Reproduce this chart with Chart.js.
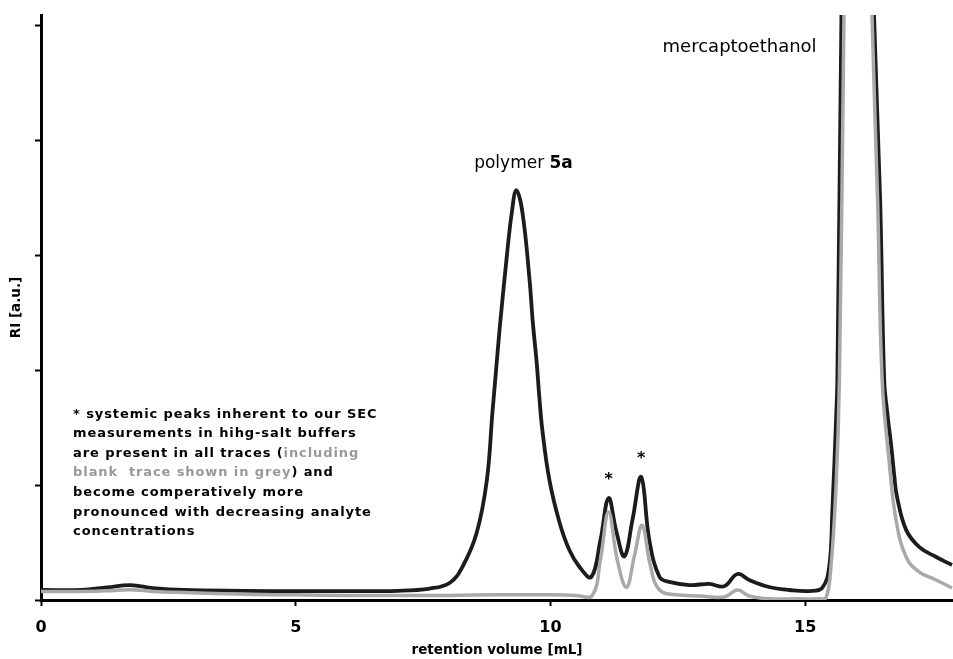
<!DOCTYPE html>
<html>
<head>
<meta charset="utf-8">
<script src="https://cdn.jsdelivr.net/npm/chart.js@4.4.0/dist/chart.umd.min.js"></script>
<style>
  body { margin: 0; background: #fff; }
  #wrap { width: 953px; height: 659px; }
</style>
</head>
<body>
<div id="wrap"><canvas id="secChart"></canvas></div>
<script>
// polymer 5a trace
var sampleVol = [0, 0.8, 1.3, 1.75, 2.2, 2.8, 4, 5, 6, 7, 7.63, 8.02, 8.27, 8.55, 8.75, 8.86, 8.93, 9.0, 9.14, 9.24, 9.33,
  9.45, 9.59, 9.65, 9.73, 9.78, 9.84, 9.98, 10.18, 10.37, 10.57, 10.8, 10.98, 11.14, 11.29, 11.45, 11.61, 11.78, 11.94,
  12.14, 12.33, 12.73, 13.12, 13.41, 13.67, 13.9, 14.29, 14.69, 15.08, 15.33, 15.47, 15.53, 15.61, 15.63,
  15.71, 15.8, 15.95, 16.1, 16.22, 16.35, 16.47, 16.55, 16.61, 16.69, 16.75, 16.8, 16.98, 17.24, 17.57, 17.88];
var sampleRI = [0.087, 0.087, 0.11, 0.13, 0.104, 0.087, 0.08, 0.077, 0.077, 0.08, 0.1, 0.148, 0.287, 0.583, 1.04, 1.63, 1.99, 2.35, 2.98, 3.37, 3.565,
  3.37, 2.78, 2.43, 2.06, 1.77, 1.48, 1.04, 0.67, 0.435, 0.287, 0.2, 0.52, 0.887, 0.6, 0.38, 0.7, 1.07, 0.52,
  0.2, 0.157, 0.13, 0.14, 0.12, 0.226, 0.174, 0.113, 0.087, 0.078, 0.104, 0.287, 0.757, 1.63, 1.91,
  5.09, 8.5, 11.5, 11, 7.5, 5.09, 3.48, 1.91, 1.63, 1.33, 1.07, 0.9, 0.61, 0.46, 0.374, 0.304];

// blank trace
var blankVol = [0, 0.8, 1.3, 1.75, 2.2, 2.8, 4, 5, 6, 7, 8, 9, 10, 10.5, 10.82, 10.98, 11.14, 11.31, 11.49, 11.65,
  11.8, 11.96, 12.14, 12.53, 12.92, 13.41, 13.67, 13.9, 14.29, 14.88, 15.27, 15.41, 15.51, 15.61, 15.67,
  15.76, 15.85, 16.0, 16.12, 16.22, 16.31, 16.42, 16.51, 16.65, 16.78, 16.98, 17.24, 17.57, 17.88];
var blankRI = [0.075, 0.075, 0.08, 0.09, 0.075, 0.065, 0.05, 0.045, 0.04, 0.04, 0.04, 0.045, 0.045, 0.04, 0.04, 0.35, 0.765, 0.35, 0.11, 0.39,
  0.65, 0.3, 0.087, 0.043, 0.035, 0.026, 0.087, 0.035, 0.01, 0.01, 0.01, 0.02, 0.32, 1.04, 1.91,
  5.09, 8.5, 11.5, 10, 7, 5.09, 3.48, 1.91, 1.19, 0.7, 0.374, 0.243, 0.174, 0.104];

// systemic peaks marked with *
var starVol = [11.14, 11.78];
var starRI = [0.887, 1.07];

var noteLines = [
  [['* systemic peaks inherent to our SEC', '#000']],
  [['measurements in hihg-salt buffers', '#000']],
  [['are present in all traces (', '#000'], ['including', '#999']],
  [['blank  trace shown in grey', '#999'], [') and', '#000']],
  [['become comperatively more', '#000']],
  [['pronounced with decreasing analyte', '#000']],
  [['concentrations', '#000']]
];

function points(xs, ys) {
  return xs.map(function (x, i) { return { x: x, y: ys[i] }; });
}

var FONT = '"DejaVu Sans", Verdana, sans-serif';

var labelsPlugin = {
  id: 'peakLabels',
  afterDatasetsDraw: function (chart) {
    var ctx = chart.ctx, xs = chart.scales.x, ys = chart.scales.y;
    ctx.save();
    ctx.textBaseline = 'alphabetic';

    // asterisks over the systemic peaks
    ctx.font = 'bold 16px ' + FONT;
    ctx.fillStyle = '#000';
    ctx.textAlign = 'center';
    starVol.forEach(function (v, i) {
      ctx.fillText('*', xs.getPixelForValue(v), ys.getPixelForValue(starRI[i]) - 14);
    });

    // polymer 5a
    ctx.textAlign = 'left';
    var px = xs.getPixelForValue(9.47), py = ys.getPixelForValue(3.8) + 5;
    ctx.font = '17px ' + FONT;
    var w1 = ctx.measureText('polymer ').width;
    ctx.font = 'bold 17px ' + FONT;
    var w2 = ctx.measureText('5a').width;
    var x0 = px - (w1 + w2) / 2;
    ctx.font = '17px ' + FONT;
    ctx.fillText('polymer ', x0, py);
    ctx.font = 'bold 17px ' + FONT;
    ctx.fillText('5a', x0 + w1, py);

    // mercaptoethanol
    ctx.font = '18px ' + FONT;
    ctx.fillText('mercaptoethanol', xs.getPixelForValue(12.2), ys.getPixelForValue(4.82) + 6);

    // note
    ctx.font = 'bold 13px ' + FONT;
    ctx.letterSpacing = '0.9px';
    var nx = xs.getPixelForValue(0.63), ny = ys.getPixelForValue(1.63) + 5;
    noteLines.forEach(function (line, i) {
      var x = nx;
      line.forEach(function (seg) {
        ctx.fillStyle = seg[1];
        ctx.fillText(seg[0], x, ny + i * 19.6);
        x += ctx.measureText(seg[0]).width;
      });
    });
    ctx.restore();
  }
};

new Chart(document.getElementById('secChart'), {
  type: 'line',
  data: {
    datasets: [{
      label: 'blank',
      data: points(blankVol, blankRI),
      borderColor: '#a9a9a9',
      borderWidth: 3.5,
      pointRadius: 0,
      tension: 0.4,
      order: 0
    }, {
      label: 'polymer 5a',
      data: points(sampleVol, sampleRI),
      borderColor: '#1c1c1c',
      borderWidth: 3.8,
      pointRadius: 0,
      tension: 0.4,
      order: 1
    }]
  },
  options: {
    responsive: true,
    maintainAspectRatio: false,
    animation: false,
    layout: { padding: { top: 15, right: 0, bottom: 0, left: 0 } },
    plugins: { legend: { display: false }, tooltip: { enabled: false } },
    scales: {
      x: {
        type: 'linear',
        min: 0,
        max: 17.9,
        border: { color: '#000', width: 3 },
        grid: { drawOnChartArea: false, tickLength: 6, tickColor: '#000', tickWidth: 2 },
        ticks: {
          stepSize: 5,
          includeBounds: false,
          maxRotation: 0,
          padding: 12,
          color: '#000',
          font: { family: FONT, size: 16, weight: 'bold' }
        },
        title: {
          display: true,
          text: 'retention volume [mL]',
          color: '#000',
          padding: 0,
          font: { family: FONT, size: 13.5, weight: 'bold' }
        },
        afterFit: function (scale) { scale.height = 59; }
      },
      y: {
        min: 0,
        max: 5.09,
        border: { color: '#000', width: 3 },
        grid: { drawOnChartArea: false, tickLength: 6, tickColor: '#000', tickWidth: 2 },
        ticks: { stepSize: 1, includeBounds: false, display: false },
        title: {
          display: true,
          text: 'RI [a.u.]',
          color: '#000',
          padding: { top: 8, bottom: 0 },
          font: { family: FONT, size: 13.5, weight: 'bold' }
        },
        afterFit: function (scale) { scale.width = 41; }
      }
    }
  },
  plugins: [labelsPlugin]
});
</script>
</body>
</html>
